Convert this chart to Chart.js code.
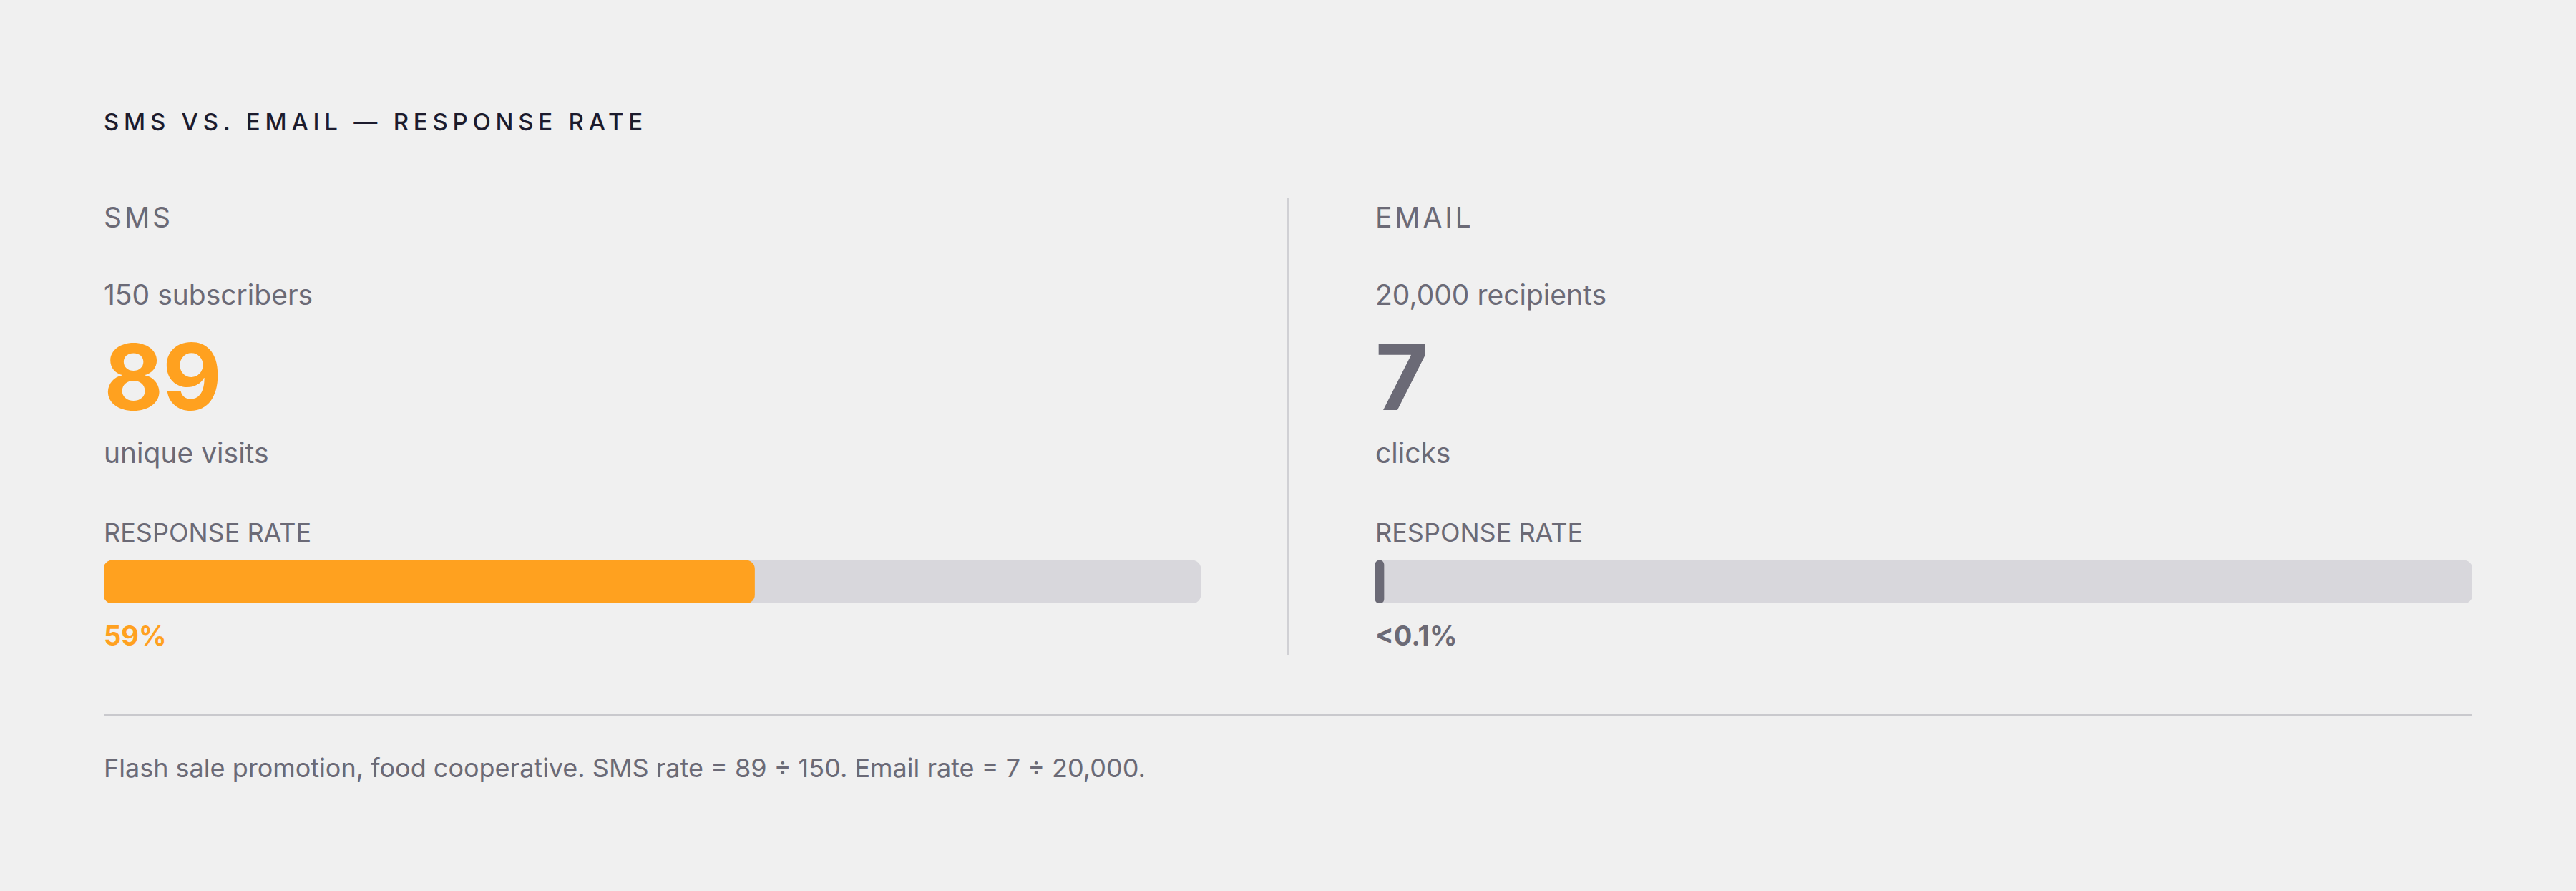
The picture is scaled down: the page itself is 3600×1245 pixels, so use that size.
<!DOCTYPE html>
<html>
<head>
<meta charset="utf-8">
<script src="https://cdn.jsdelivr.net/npm/chart.js@4.4.1/dist/chart.umd.min.js"></script>
<style>
  html, body { margin:0; padding:0; }
  body { width:3600px; height:1245px; background:#f0f0f0; position:relative; overflow:hidden;
         font-family: Inter, "Noto Sans", sans-serif; }
  .t { position:absolute; line-height:1; white-space:nowrap; margin:0; }
  .title { left:145px; top:154px; font-size:33px; font-weight:500; letter-spacing:0.205em; color:#1c1b2d; }
  .lab { font-size:39px; letter-spacing:0.1em; color:#6b6a76; top:284px; }
  .sub { font-size:39px; color:#6b6a76; top:392px; }
  .big { font-size:128px; font-weight:700; top:463px; letter-spacing:-0.01em; }
  .unit { font-size:39px; color:#6b6a76; top:613px; }
  .rr { font-size:36px; color:#6b6a76; top:726px; }
  .rate { font-size:38px; font-weight:700; top:869px; }
  .foot { left:145px; top:1055px; font-size:36px; color:#6b6a76; }
  .bar { position:absolute; top:783px; width:1533px; height:60px; }
  .vline { position:absolute; left:1799px; top:277px; width:2px; height:638px; background:#d0d0d4; }
  .hline { position:absolute; left:145px; top:998px; width:3310px; height:3px; background:#c9c9cd; }
</style>
</head>
<body>
<div class="t title" id="title"></div>
<div class="vline"></div>
<div class="hline"></div>
<div class="t foot" id="foot"></div>
<div id="cols"></div>
<script>
const titleText = 'SMS VS. EMAIL — RESPONSE RATE';
const channels = ['SMS', 'EMAIL'];
const audienceCounts = ['150', '20,000'];
const audienceUnits = ['subscribers', 'recipients'];
const responses = ['89', '7'];
const responseUnits = ['unique visits', 'clicks'];
const rates = [59.33, 0.035];          // percent
const rateLabels = ['59%', '<0.1%'];
const rateCaption = 'RESPONSE RATE';
const footnote = 'Flash sale promotion, food cooperative. SMS rate = 89 ÷ 150. Email rate = 7 ÷ 20,000.';

const colLefts = [145, 1922];
const accent = ['#ffa11f', '#6b6a76'];
const trackColor = '#d8d7dc';

document.getElementById('title').textContent = titleText;
document.getElementById('foot').textContent = footnote;

const cols = document.getElementById('cols');
function addText(cls, text, left, color) {
  const d = document.createElement('div');
  d.className = 't ' + cls;
  d.style.left = left + 'px';
  if (color) d.style.color = color;
  d.textContent = text;
  cols.appendChild(d);
}

channels.forEach((ch, i) => {
  const x = colLefts[i];
  addText('lab', ch, x);
  addText('sub', audienceCounts[i] + ' ' + audienceUnits[i], x);
  addText('big', responses[i], x, accent[i]);
  addText('unit', responseUnits[i], x);
  addText('rr', rateCaption, x);
  addText('rate', rateLabels[i], x, accent[i]);

  const wrap = document.createElement('div');
  wrap.className = 'bar';
  wrap.style.left = x + 'px';
  const cv = document.createElement('canvas');
  wrap.appendChild(cv);
  cols.appendChild(wrap);

  new Chart(cv, {
    type: 'bar',
    data: {
      labels: [ch],
      datasets: [
        { label: 'rate', data: [rates[i]], backgroundColor: accent[i], borderRadius: 12,
          borderSkipped: false, minBarLength: 12, order: 0, grouped: false,
          barPercentage: 1, categoryPercentage: 1 },
        { label: 'track', data: [100], backgroundColor: trackColor, borderRadius: 12,
          borderSkipped: false, order: 1, grouped: false,
          barPercentage: 1, categoryPercentage: 1 }
      ]
    },
    options: {
      indexAxis: 'y',
      responsive: true,
      maintainAspectRatio: false,
      animation: false,
      layout: { padding: 0 },
      plugins: { legend: { display: false }, tooltip: { enabled: false } },
      scales: {
        x: { display: false, min: 0, max: 100 },
        y: { display: false }
      }
    }
  });
});
</script>
</body>
</html>
